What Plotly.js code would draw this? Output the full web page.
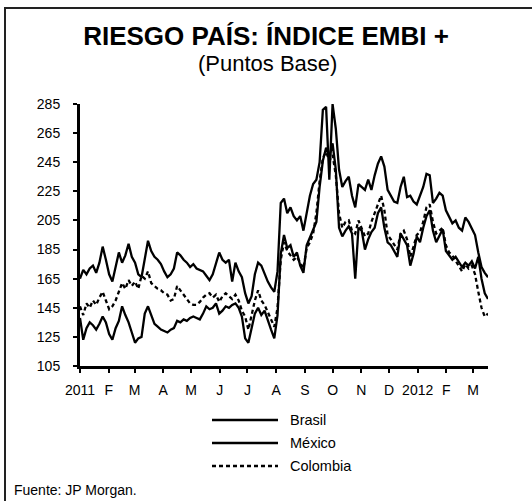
<!DOCTYPE html>
<html>
<head>
<meta charset="utf-8">
<script src="https://cdn.plot.ly/plotly-3.0.1.min.js"></script>
<style>
html,body{margin:0;padding:0;background:#fff;}
#chart{width:532px;height:501px;}
</style>
</head>
<body>
<div id="chart"></div>
<script>
// ---- Data ----
const startDate = "2011-01-01";
const stepDays = 3.5;

const seriesNames = ["Brasil", "México", "Colombia"];

const brasil = [165,171,168,172,174,169,176,187,178,168,163,172,183,176,181,189,180,176,168,166,
  178,191,184,180,178,175,170,166,168,172,183,181,178,176,173,175,172,171,170,167,
  164,168,176,183,178,176,178,163,176,170,166,155,148,153,168,176,174,168,163,159,
  156,170,217,220,210,214,208,205,208,198,210,222,230,233,245,281,283,233,285,268,
  240,228,232,235,222,214,230,228,226,233,226,236,244,249,242,226,222,218,217,228,
  235,221,222,218,216,222,228,237,236,217,220,224,222,212,208,203,205,200,198,207,
  204,200,195,183,173,169,166];

const mexico = [138,123,131,135,133,130,134,139,135,127,123,131,136,146,140,135,128,121,124,125,
  141,146,140,134,132,130,129,128,130,131,136,135,137,136,138,139,138,137,141,146,
  144,145,148,141,143,146,145,147,148,145,139,124,121,132,141,145,140,143,136,130,
  124,140,182,195,186,188,180,183,174,169,188,193,198,204,228,246,255,248,258,240,
  200,194,198,201,196,165,200,198,185,192,197,200,210,214,200,190,188,184,180,196,
  192,188,174,182,194,190,200,208,212,198,190,195,199,184,181,178,180,176,173,176,
  174,177,172,180,165,155,151];

const colombia = [146,140,148,145,150,147,152,156,150,144,146,150,156,162,158,164,160,163,158,167,
  165,170,162,160,158,157,155,154,150,151,160,157,154,151,148,147,147,149,152,154,
  155,152,154,149,153,155,153,151,154,150,143,139,130,140,150,157,150,147,142,137,
  132,145,178,190,184,181,178,180,176,172,186,190,196,210,232,248,252,246,250,236,
  210,200,204,205,198,196,205,200,194,196,204,210,216,222,212,195,192,188,185,196,
  198,192,180,187,195,197,204,214,216,204,196,198,200,188,183,181,177,174,170,175,
  172,174,168,156,145,139,141];

const tickDates = ["2011-01-01","2011-02-01","2011-03-01","2011-04-01","2011-05-01","2011-06-01",
  "2011-07-01","2011-08-01","2011-09-01","2011-10-01","2011-11-01","2011-12-01",
  "2012-01-01","2012-02-01","2012-03-01"];
const tickLabels = ["2011","F","M","A","M","J","J","A","S","O","N","D","2012","F","M"];
const yTicks = [105,125,145,165,185,205,225,245,265,285];

// ---- Build dates ----
const t0 = Date.parse(startDate + "T00:00:00Z");
function pad(n){return (n<10?"0":"")+n;}
const dates = brasil.map((_, i) => {
  const d = new Date(t0 + i * stepDays * 86400000);
  return d.getUTCFullYear()+"-"+pad(d.getUTCMonth()+1)+"-"+pad(d.getUTCDate())+" "+pad(d.getUTCHours())+":00";
});

const FONT = "Liberation Sans, Arial, sans-serif";
const styles = [
  {color:"#000", width:2.3, dash:"solid"},
  {color:"#000", width:2.3, dash:"solid"},
  {color:"#000", width:2.3, dash:"4px,3px"}
];
const values = [brasil, mexico, colombia];

const traces = values.map((v, k) => ({
  x: dates, y: v, type: "scatter", mode: "lines", name: seriesNames[k],
  line: styles[k], showlegend: false, hoverinfo: "skip"
}));

// geometry helpers (plot area: x 80..488, y 104..366)
const L = 80, R = 44, T = 104, B = 135, W = 532, H = 501;
const pw = W - L - R, ph = H - T - B;
const px = x => (x - L) / pw;
const py = y => (H - B - y) / ph;

const shapes = [
  // outer frame: top and left
  {type:"line", xref:"paper", yref:"paper", x0:px(4), x1:px(532), y0:py(8), y1:py(8), line:{color:"#222", width:2}},
  {type:"line", xref:"paper", yref:"paper", x0:px(5), x1:px(5), y0:py(8), y1:py(501), line:{color:"#222", width:2}}
];
const annotations = [
  {xref:"paper", yref:"paper", x:px(267), y:py(64), text:"(Puntos Base)", showarrow:false,
   font:{family:FONT, size:22, color:"#000"}, xanchor:"center", yanchor:"middle"},
  {xref:"paper", yref:"paper", x:px(12), y:py(490), text:"Fuente: JP Morgan.", showarrow:false,
   font:{family:FONT, size:14, color:"#000"}, xanchor:"left", yanchor:"middle"}
];
const legendY = [420, 443, 466];
seriesNames.forEach((n, k) => {
  shapes.push({type:"line", xref:"paper", yref:"paper", x0:px(212), x1:px(278), y0:py(legendY[k]), y1:py(legendY[k]),
    line:{color:"#000", width:2.3, dash: styles[k].dash}});
  annotations.push({xref:"paper", yref:"paper", x:px(288), y:py(legendY[k]), text:n, showarrow:false,
    font:{family:FONT, size:14.5, color:"#000"}, xanchor:"left", yanchor:"middle"});
});

const layout = {
  width: W, height: H,
  margin: {l:L, r:R, t:T, b:B, pad:0},
  paper_bgcolor:"#fff", plot_bgcolor:"#fff",
  font:{family:FONT, size:14, color:"#000"},
  title:{text:"<b>RIESGO PAÍS: ÍNDICE EMBI +</b>", font:{family:FONT, size:26, color:"#000"},
    xref:"container", x:0.5, xanchor:"center", yref:"container", y:1-36/H, yanchor:"middle"},
  xaxis:{type:"date", range:["2011-01-01","2012-03-17"], tickmode:"array", tickvals:tickDates, ticktext:tickLabels,
    showgrid:false, zeroline:false, showline:true, linecolor:"#000", linewidth:3,
    ticks:"outside", ticklen:4, tickwidth:2, tickcolor:"#000", ticklabelstandoff:5,
    tickfont:{family:FONT, size:14, color:"#000"}, fixedrange:true},
  yaxis:{range:[105,285], tickmode:"array", tickvals:yTicks,
    showgrid:false, zeroline:false, showline:true, linecolor:"#000", linewidth:3,
    ticks:"outside", ticklen:4, tickwidth:2, tickcolor:"#000", ticklabelstandoff:10,
    tickfont:{family:FONT, size:14, color:"#000"}, fixedrange:true},
  shapes: shapes,
  annotations: annotations,
  showlegend:false
};

Plotly.newPlot("chart", traces, layout, {displayModeBar:false, staticPlot:true});
</script>
</body>
</html>
